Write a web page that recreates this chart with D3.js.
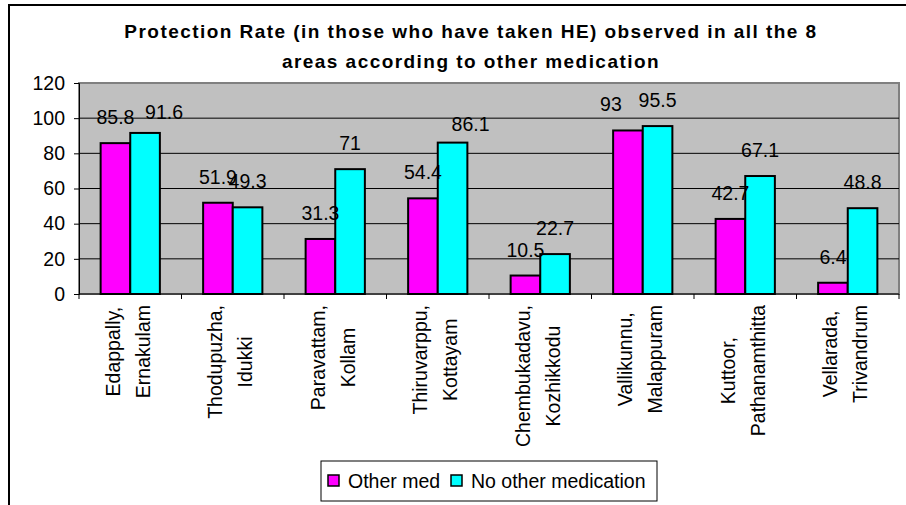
<!DOCTYPE html>
<html>
<head>
<meta charset="utf-8">
<script src="https://cdn.jsdelivr.net/npm/d3@7"></script>
<style>
  body { margin: 0; background: #fff; }
  svg text { font-family: Arial, 'Liberation Sans', sans-serif; fill: #000; }
</style>
</head>
<body>
<div id="chart"></div>
<script>
const areas = [
  ['Edappally,', 'Ernakulam'],
  ['Thodupuzha,', 'Idukki'],
  ['Paravattam,', 'Kollam'],
  ['Thiruvarppu,', 'Kottayam'],
  ['Chembukadavu,', 'Kozhikkodu'],
  ['Vallikunnu,', 'Malappuram'],
  ['Kuttoor,', 'Pathanamthitta'],
  ['Vellarada,', 'Trivandrum']
]
const otherMed = [85.8, 51.9, 31.3, 54.4, 10.5, 93, 42.7, 6.4]
const noOtherMed = [91.6, 49.3, 71, 86.1, 22.7, 95.5, 67.1, 48.8]
const seriesNames = ['Other med', 'No other medication']
const seriesColors = ['#ff00ff', '#00ffff']
const yTicks = [0, 20, 40, 60, 80, 100, 120]
const titleLines = [
  'Protection Rate (in those who have taken HE) observed in all the 8',
  'areas according to other medication'
]

// a few data labels were dragged aside by hand in the original
const labelNudge = { '0-1': [19, 5], '3-1': [18, 7], '5-0': [-17, 0] }

const width = 906
const height = 505
const margin = { top: 83, right: 7, bottom: 211, left: 79 }

const svg = d3
  .select('#chart')
  .append('svg')
  .attr('width', width)
  .attr('height', height)

// outer chart frame
svg.append('path')
  .attr('d', `M9,${height + 5}V5H${width + 5}`)
  .attr('fill', 'none')
  .attr('stroke', '#000')
  .attr('stroke-width', 2)

const x = d3
  .scaleBand()
  .domain(d3.range(areas.length))
  .range([margin.left, width - margin.right])

const x1 = d3
  .scaleBand()
  .domain([0, 1])
  .range([0, x.bandwidth()])
  .paddingOuter(0.73)

const y = d3
  .scaleLinear()
  .domain([0, 120])
  .range([height - margin.bottom, margin.top])

// plot area
svg.append('rect')
  .attr('x', margin.left)
  .attr('y', y(120))
  .attr('width', width - margin.right - margin.left)
  .attr('height', y(0) - y(120))
  .attr('fill', '#c0c0c0')
  .attr('stroke', '#808080')
  .attr('stroke-width', 2)

svg.append('g')
  .selectAll('line')
  .data(yTicks.filter(d => d > 0 && d < 120))
  .join('line')
  .attr('x1', margin.left)
  .attr('x2', width - margin.right)
  .attr('y1', d => y(d))
  .attr('y2', d => y(d))
  .attr('stroke', '#000')

// y axis
const yAxis = svg.append('g')
  .attr('transform', `translate(${margin.left},0)`)
  .call(d3.axisLeft(y).tickValues(yTicks).tickSize(5).tickPadding(9))
yAxis.selectAll('text').attr('font-size', 19.5).attr('font-family', null)
yAxis.select('.domain').attr('stroke', '#000')

// x axis boundary ticks
const xAxis = svg.append('g')
xAxis.append('line')
  .attr('x1', margin.left)
  .attr('x2', width - margin.right)
  .attr('y1', y(0))
  .attr('y2', y(0))
  .attr('stroke', '#000')
xAxis.selectAll('.tk')
  .data(d3.range(areas.length + 1))
  .join('line')
  .attr('class', 'tk')
  .attr('x1', i => margin.left + i * x.step())
  .attr('x2', i => margin.left + i * x.step())
  .attr('y1', y(0))
  .attr('y2', y(0) + 5)
  .attr('stroke', '#000')

// bars
const rows = areas.map((a, i) => [otherMed[i], noOtherMed[i]].map((v, j) => ({ v, j, key: `${i}-${j}` })))
const groups = svg.append('g')
  .selectAll('g')
  .data(rows)
  .join('g')
  .attr('transform', (_, i) => `translate(${x(i)},0)`)

groups.selectAll('rect')
  .data(d => d)
  .join('rect')
  .attr('x', d => x1(d.j))
  .attr('y', d => y(d.v))
  .attr('width', x1.bandwidth())
  .attr('height', d => y(0) - y(d.v))
  .attr('fill', d => seriesColors[d.j])
  .attr('stroke', '#000')
  .attr('stroke-width', 2)

groups.selectAll('text')
  .data(d => d)
  .join('text')
  .attr('x', d => x1(d.j) + x1.bandwidth() / 2 + (labelNudge[d.key] || [0, 0])[0])
  .attr('y', d => y(d.v) - 19 + (labelNudge[d.key] || [0, 0])[1])
  .attr('text-anchor', 'middle')
  .attr('font-size', 19.5)
  .text(d => d.v)

// category labels, rotated, each line centered on the longest one
const catG = svg.append('g')
areas.forEach((lines, i) => {
  const cx = x(i) + x.bandwidth() / 2
  const g = catG.append('g')
  const texts = lines.map(t =>
    g.append('text')
      .attr('font-size', 19.5)
      .attr('text-anchor', 'middle')
      .text(t)
  )
  const maxLen = d3.max(texts, t => t.node().getComputedTextLength())
  const cy = 305 + maxLen / 2
  texts.forEach((t, k) => {
    const lx = cx + (k - (lines.length - 1) / 2) * 30 + 4.5
    t.attr('transform', `translate(${lx},${cy}) rotate(-90)`)
  })
})

// title
svg.append('g')
  .selectAll('text')
  .data(titleLines)
  .join('text')
  .attr('x', 471)
  .attr('y', (_, i) => 38 + i * 30)
  .attr('text-anchor', 'middle')
  .attr('font-size', 19)
  .attr('font-weight', 'bold')
  .attr('letter-spacing', 1.45)
  .text(d => d)

// legend
const legend = svg.append('g')
legend.append('rect')
  .attr('x', 321)
  .attr('y', 461)
  .attr('width', 336)
  .attr('height', 40)
  .attr('fill', '#fff')
  .attr('stroke', '#000')
const legendX = [328, 451]
seriesNames.forEach((name, i) => {
  legend.append('rect')
    .attr('x', legendX[i])
    .attr('y', 475)
    .attr('width', 11)
    .attr('height', 11)
    .attr('fill', seriesColors[i])
    .attr('stroke', '#000')
    .attr('stroke-width', 1.5)
  legend.append('text')
    .attr('x', legendX[i] + 20)
    .attr('y', 488)
    .attr('font-size', 19.5)
    .text(name)
})
</script>
</body>
</html>
